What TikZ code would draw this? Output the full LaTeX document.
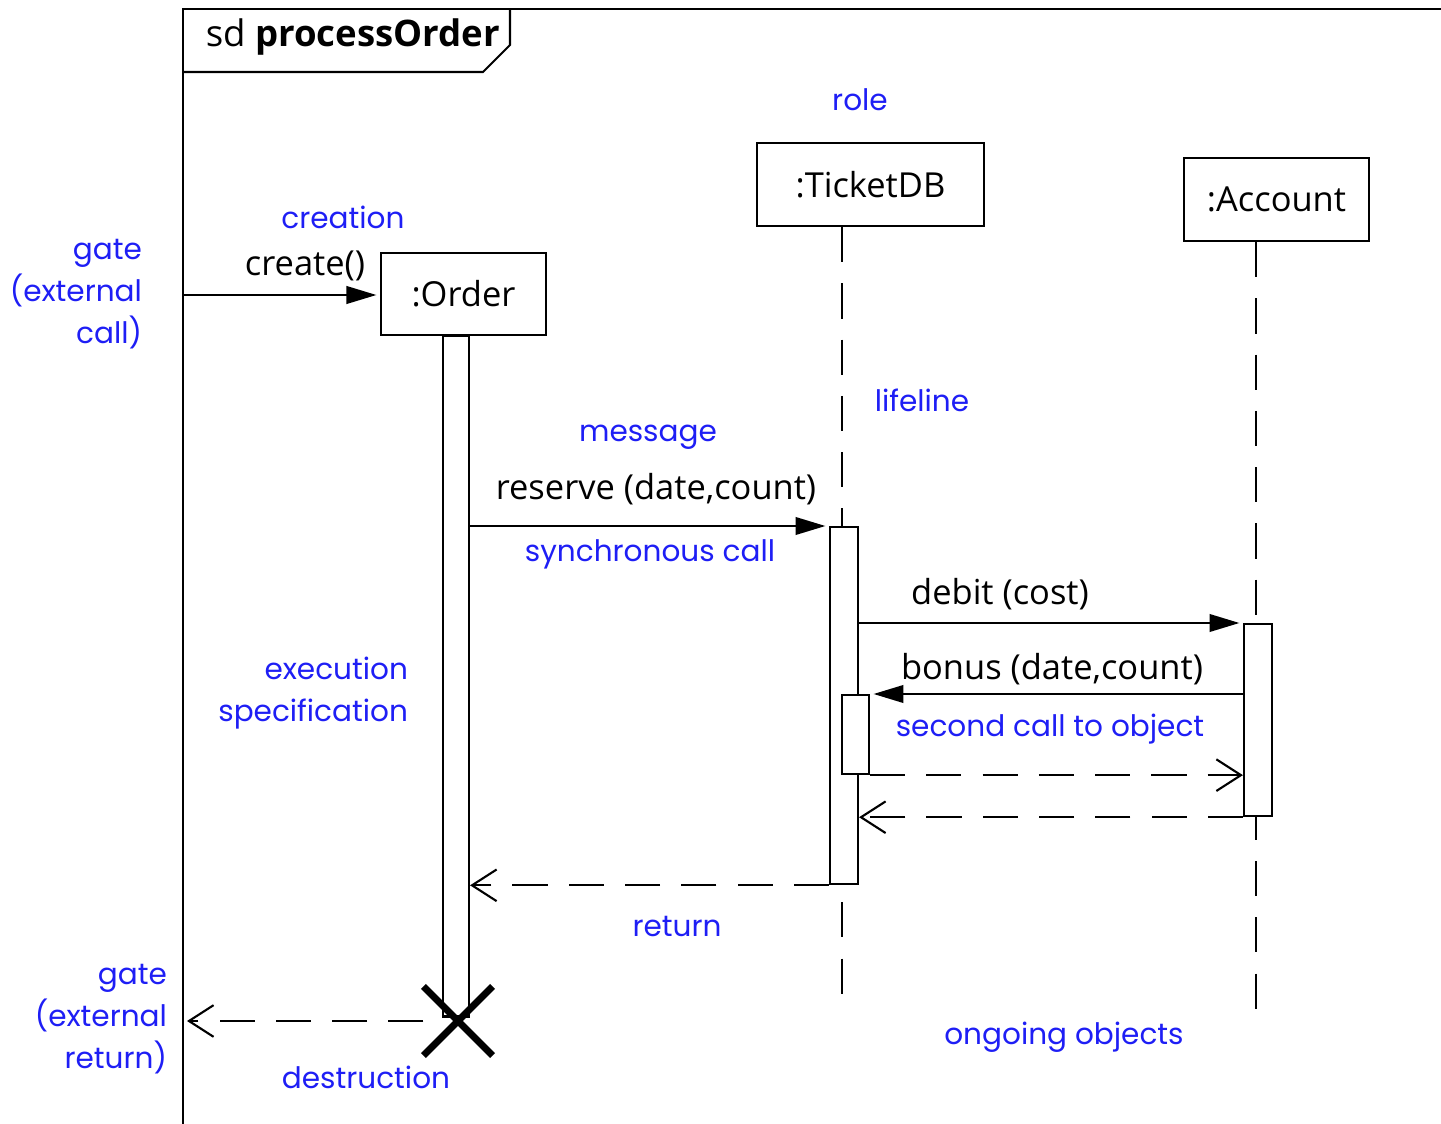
\documentclass[tikz,border=0pt]{standalone}
\usepackage{fontspec}
\setmainfont{Open Sans}
\newfontfamily\notefont{Poppins}
\usetikzlibrary{arrows.meta,shapes.misc}
\definecolor{noteblue}{RGB}{30,30,245}
\begin{document}
\begin{tikzpicture}[x=0.01cm,y=-0.01cm,line width=0.6pt,
every node/.style={font=\fontsize{9.8}{12}\selectfont},
note/.style={text=noteblue,font=\notefont\fontsize{8.4}{12}\selectfont,inner sep=0pt,align=center},
obj/.style={draw,minimum height=0.83cm,inner sep=0pt},
act/.style={draw,fill=white,inner sep=0pt,minimum width=0.27cm,anchor=north},
life/.style={dash pattern=on 10pt off 6pt},
call/.style={-{Triangle[length=8.5pt,width=5pt]},shorten >=1pt},
reply/.style={dash pattern=on 10pt off 6pt,-{Straight Barb[length=7pt,width=9pt]}},
destroy/.style={cross out,draw,line width=2pt,minimum size=0.62cm,inner sep=0pt}]

\useasboundingbox (0,0) rectangle (1441,1124);

% frame with its name tab
\draw (1441,9) -- (183,9) -- (183,1124);
\draw (183,72) -- (483,72) -- (510,45) -- (510,9);
\node[anchor=west,font=\fontsize{10.4}{12}\selectfont] (title) at (193,37) {sd \textbf{processOrder}};

% roles
\node[obj,minimum width=1.65cm,minimum height=0.82cm] (order) at (463.5,294) {:Order};
\node[obj,minimum width=2.27cm] (ticketdb) at (870.5,184.5) {:TicketDB};
\node[obj,minimum width=1.85cm] (account) at (1276.5,199.5) {:Account};

% lifelines
\coordinate (tend) at (842,1012);
\coordinate (aend) at (1256,1012);
\draw[life] (ticketdb.south -| tend) -- (tend);
\draw[life] (account.south -| aend) -- (aend);

% execution specifications
\node[act,minimum width=0.26cm,minimum height=6.8cm] (oact) at (456,335) {};
\node[act,minimum width=0.28cm,minimum height=3.57cm] (tact) at (844,526) {};
\node[act,minimum height=0.79cm] (tact2) at (855.5,694) {};
\node[act,minimum width=0.28cm,minimum height=1.92cm] (aact) at (1258,623) {};
\node[destroy] (kill) at (458,1021) {};

% messages
\coordinate (gin) at (183,295);
\coordinate (gout) at (187,1021);
\draw[call] (gin) -- (order.west |- gin);
\draw[call] (oact.east |- tact.north) -- (tact.north west);
\draw[call] (tact.east |- aact.north) -- (aact.north west);
\draw[call] (aact.west |- tact2.north) -- (tact2.north east);
\draw[reply] (tact2.south east) -- (aact.west |- tact2.south);
\draw[reply] (aact.south west) -- (tact.east |- aact.south);
\draw[reply] (tact.south west) -- (oact.east |- tact.south);
\draw[reply] (kill.west) -- (gout);

\node (createlbl) at (305,266) {create()};
\node (reservelbl) at (656,489) {reserve (date,count)};
\node (debitlbl) at (1000,594) {debit (cost)};
\node (bonuslbl) at (1052,669) {bonus (date,count)};

% notes
\node[note] (role) at (860,100) {role};
\node[note] (creation) at (343,217) {creation};
\node[note,anchor=east,align=right] (gatein) at (143,294) {gate\\(external\\call)};
\node[note] (lifeline) at (922,400) {lifeline};
\node[note] (message) at (648,437) {message};
\node[note] (sync) at (650,554) {synchronous call};
\node[note,anchor=east,align=right] (execspec) at (409,693) {execution\\specification};
\node[note] (second) at (1050,729) {second call to object};
\node[note] (return) at (677,926) {return};
\node[note,anchor=east,align=right] (gateout) at (168,1019) {gate\\(external\\return)};
\node[note] (destruction) at (366,1077) {destruction};
\node[note] (ongoing) at (1064,1037) {ongoing objects};

\end{tikzpicture}
\end{document}
